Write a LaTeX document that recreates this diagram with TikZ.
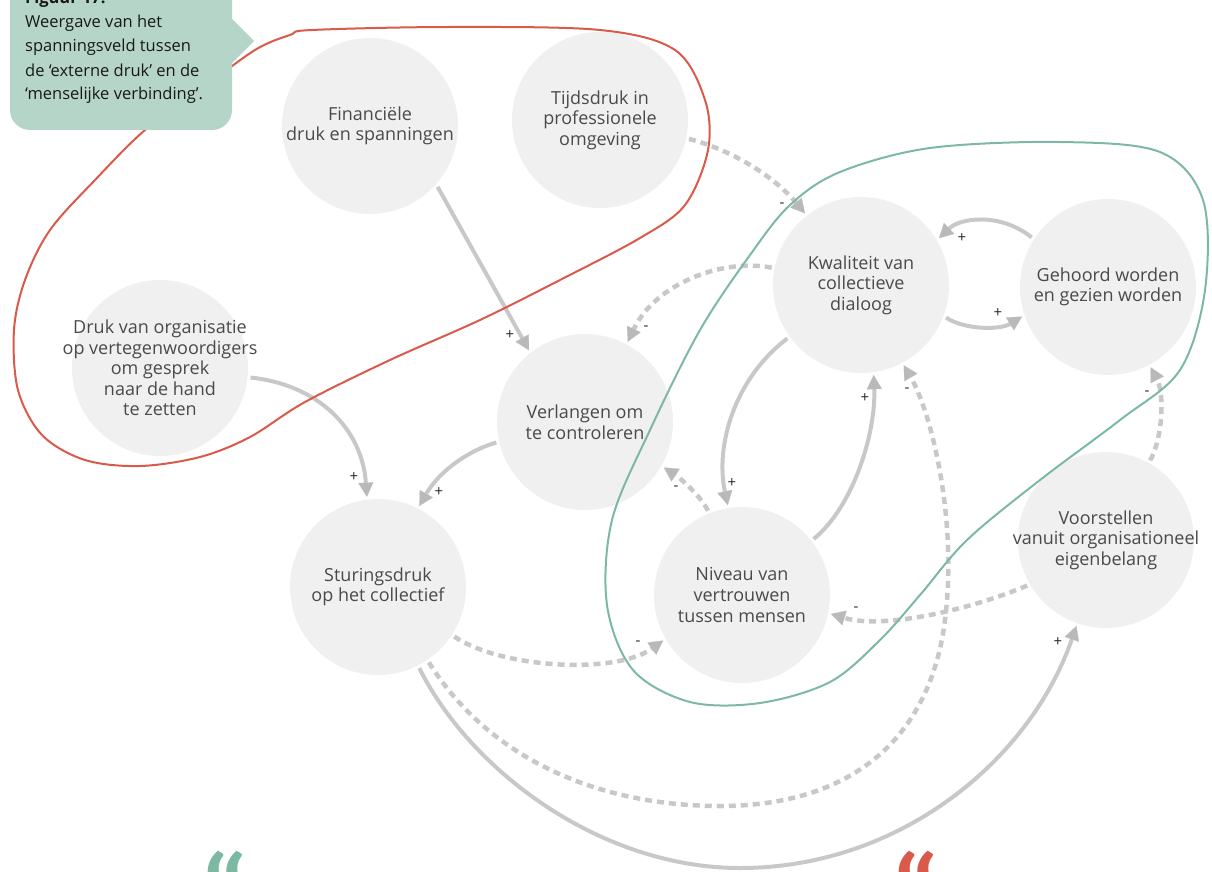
\documentclass[tikz,border=0pt]{standalone}
\usepackage{fontspec}
\setmainfont{Open Sans}
\newfontfamily\quotefont{Lato}
\usetikzlibrary{arrows.meta}
\definecolor{bubble}{HTML}{F0F0F0}
\definecolor{linkgrey}{HTML}{C8C8C8}
\definecolor{tipgrey}{HTML}{B9B9B9}
\definecolor{loopred}{HTML}{D95A4A}
\definecolor{loopgreen}{HTML}{7DB8A2}
\definecolor{notegreen}{HTML}{B4D5C7}
\definecolor{factortext}{HTML}{4A4A4A}
\begin{document}
\begin{tikzpicture}[x=1pt,y=-1pt,
  factor/.style={circle, fill=bubble, minimum size=176pt, inner sep=-40pt, outer sep=3pt,
    align=center, text=factortext, font=\fontsize{18}{20.6}\selectfont},
  tipstyle/.style={-{Triangle[length=14pt,width=15pt,line width=0.1pt,color=tipgrey]}},
  poslink/.style={draw=linkgrey, line width=4pt, tipstyle},
  neglink/.style={draw=linkgrey, line width=4.5pt, dash pattern=on 7pt off 5pt, tipstyle},
  sign/.style={font=\fontsize{15}{15}\selectfont, text=black!85, inner sep=0pt},
  loopline/.style={line width=2pt}
]
\useasboundingbox (0,0) rectangle (1212,872);
\clip (0,0) rectangle (1212,872);

% factors
\node[factor] (fin) at (370,126) {Financiële\\druk en spanningen};
\node[factor] (tij) at (600,120) {Tijdsdruk in\\professionele\\omgeving};
\node[factor] (dru) at (160,368) {Druk van organisatie\\op vertegenwoordigers\\om gesprek\\naar de hand\\te zetten};
\node[factor] (ver) at (585,422) {Verlangen om\\te controleren};
\node[factor] (kwa) at (861,285) {Kwaliteit van\\collectieve\\dialoog};
\node[factor] (geh) at (1108,287) {Gehoord worden\\en gezien worden};
\node[factor] (stu) at (378,587) {Sturingsdruk\\op het collectief};
\node[factor] (niv) at (742,595) {Niveau van\\vertrouwen\\tussen mensen};
\node[factor] (voo) at (1106,540) {Voorstellen\\vanuit organisationeel\\eigenbelang};

% causal links
\draw[poslink] (fin.-42) -- (ver.128);
\draw[neglink] (tij.-12) .. controls (725,148) and (770,172) .. (kwa.128);
\draw[poslink] (dru.-6) .. controls (320,385) and (362,430) .. (stu.97);
\draw[poslink] (ver.193) .. controls (470,450) and (440,470) .. (stu.63);
\draw[neglink] (kwa.169) .. controls (720,258) and (655,285) .. (ver.62);
\draw[poslink] (geh.147) .. controls (1000,212) and (960,218) .. (kwa.31);
\draw[poslink] (kwa.-21) .. controls (965,330) and (1000,330) .. (geh.199);
\draw[poslink] (kwa.216) .. controls (735,378) and (715,445) .. (niv.99);
\draw[poslink] (niv.38) .. controls (855,505) and (876,430) .. (kwa.-82);
\draw[neglink] (niv.112) .. controls (700,495) and (680,478) .. (ver.-30);
\draw[neglink] (voo.210) .. controls (975,608) and (885,630) .. (niv.-12);
\draw[neglink] (voo.61) .. controls (1162,440) and (1165,395) .. (geh.-62);
\draw[neglink] (stu.-33) .. controls (500,668) and (615,675) .. (niv.210);
\draw[neglink] (stu.-56) .. controls (490,760) and (600,806) .. (720,806)
  .. controls (850,806) and (930,740) .. (945,620)
  .. controls (958,516) and (930,410) .. (kwa.-62);
\draw[poslink] (stu.-63) .. controls (470,770) and (600,868) .. (740,868)
  .. controls (900,868) and (1030,760) .. (voo.251);

% polarity signs
\node[sign] (s1) at (510,335) {+};
\node[sign] (s2) at (782,205) {-};
\node[sign] (s3) at (354,477) {+};
\node[sign] (s4) at (439,492) {+};
\node[sign] (s5) at (646,328) {-};
\node[sign] (s6) at (962,238) {+};
\node[sign] (s7) at (998,313) {+};
\node[sign] (s8) at (732,483) {+};
\node[sign] (s9) at (865,398) {+};
\node[sign] (s10) at (676,488) {-};
\node[sign] (s11) at (856,609) {-};
\node[sign] (s12) at (1147,393) {-};
\node[sign] (s13) at (638,643) {-};
\node[sign] (s14) at (907,390) {-};
\node[sign] (s15) at (1058,642) {+};

% external pressure loop
\draw[loopred, loopline] plot[smooth cycle, tension=0.55] coordinates {
  (312,30) (450,27) (600,30) (675,50) (705,100) (708,150) (685,205) (640,238)
  (560,280) (480,320) (390,360) (305,402) (250,437) (200,457) (140,466) (85,460)
  (42,435) (18,390) (14,330) (25,280) (50,230) (95,180) (145,130) (200,90)
  (255,50) (290,35)};

% human connection loop
\draw[loopgreen, loopline] plot[smooth cycle, tension=0.55] coordinates {
  (840,172) (930,148) (1060,142) (1160,152) (1203,200) (1205,290) (1180,370)
  (1120,420) (1040,480) (967,540) (920,595) (880,640) (830,682) (760,703)
  (690,702) (633,670) (607,605) (612,520) (650,430) (700,330) (750,255) (790,205)};

% caption box
\fill[notegreen, rounded corners=20pt] (10,-40) -- (10,130) -- (232,130) -- (232,-40) -- cycle;
\fill[notegreen] (231,18) -- (254,41) -- (231,64) -- cycle;
\node[anchor=base west, align=left, inner sep=0pt, text=black!90,
  font=\fontsize{16.5}{24}\selectfont] (caption) at (25,100)
  {\textbf{Figuur 17:}\\Weergave van het\\spanningsveld tussen\\de ‘externe druk’ en de\\‘menselijke verbinding’.};

% quotation marks
\node[anchor=base, inner sep=0pt, text=loopgreen, font=\quotefont\bfseries\fontsize{112}{112}\selectfont] (qleft) at (225,938) {“};
\node[anchor=base, inner sep=0pt, text=loopred, font=\quotefont\bfseries\fontsize{112}{112}\selectfont] (qright) at (916,938) {“};
\end{tikzpicture}
\end{document}
